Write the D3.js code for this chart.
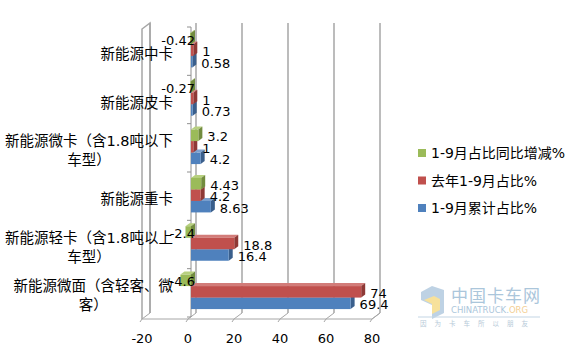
<!DOCTYPE html>
<html>
<head>
  <meta charset="utf-8">
  <script src="https://d3js.org/d3.v7.min.js"></script>
  <style>
    body { margin: 0; background: #fff; }
    svg { font-family: "DejaVu Sans", "Noto Sans CJK SC", sans-serif; }
  </style>
</head>
<body>
  <svg id="chart" width="576" height="354"></svg>
  <script>
    // data
    let categories = ["新能源中卡", "新能源皮卡", "新能源微卡（含1.8吨以下|车型）", "新能源重卡", "新能源轻卡（含1.8吨以上|车型）", "新能源微面（含轻客、微|客）"];
    let seriesNames = ["1-9月占比同比增减%", "去年1-9月占比%", "1-9月累计占比%"];
    let changeValues = [-0.42, -0.27, 3.2, 4.43, -2.4, -4.6];
    let lastYearValues = [1, 1, 1, 4.2, 18.8, 74];
    let cumValues = [0.58, 0.73, 4.2, 8.63, 16.4, 69.4];
    let xTicks = [-20, 0, 20, 40, 60, 80];

    let seriesValues = [changeValues, lastYearValues, cumValues];
    let colors = [
      {front: "#9bbb59", top: "#b7d07f", side: "#728c3e"},
      {front: "#c0504d", top: "#d27c79", side: "#8e3936"},
      {front: "#4f81bd", top: "#7ea2d0", side: "#3a5f8c"}
    ];

    let svg = d3.select("#chart");

    // front plane of the 3D box, depth goes up-right
    let x = d3.scaleLinear().domain([-20, 80]).range([142, 372]);
    let y = d3.scaleBand().domain(d3.range(categories.length)).range([29, 319]);
    let depth = {dx: 8, dy: -6};
    let barOff = {dx: 3, dy: -3};
    let barDepth = {dx: 4, dy: -3};
    let barH = 11.5;

    let grid = svg.append("g").attr("stroke", "#a6a6a6").attr("fill", "none");
    let plotTop = y.range()[0], plotBottom = y.range()[1];
    let x0 = x.range()[0], x1 = x.range()[1];

    // back wall gridlines
    xTicks.forEach(function(t) {
      grid.append("line")
        .attr("x1", x(t) + depth.dx).attr("x2", x(t) + depth.dx)
        .attr("y1", plotTop + depth.dy).attr("y2", plotBottom + depth.dy)
        .attr("stroke-width", 1.5);
      // floor lines
      grid.append("line")
        .attr("x1", x(t)).attr("y1", plotBottom)
        .attr("x2", x(t) + depth.dx).attr("y2", plotBottom + depth.dy);
      // tick marks
      grid.append("line")
        .attr("x1", x(t)).attr("y1", plotBottom)
        .attr("x2", x(t) - 2).attr("y2", plotBottom + 3);
    });

    // left wall and floor outlines
    grid.append("path")
      .attr("d", "M" + x0 + "," + plotBottom + "L" + x0 + "," + plotTop +
                 "L" + (x0 + depth.dx) + "," + (plotTop + depth.dy) +
                 "L" + (x0 + depth.dx) + "," + (plotBottom + depth.dy))
      .attr("stroke-width", 1.5);
    grid.append("path")
      .attr("d", "M" + x0 + "," + plotBottom + "L" + x1 + "," + plotBottom +
                 "L" + (x1 + depth.dx) + "," + (plotBottom + depth.dy));

    // category axis at 0
    let axisX = x(0) + barOff.dx;
    grid.append("line")
      .attr("x1", axisX).attr("x2", axisX)
      .attr("y1", plotTop + barOff.dy + 1).attr("y2", plotBottom + barOff.dy + 1)
      .attr("stroke", "#909090");
    d3.range(categories.length + 1).forEach(function(i) {
      let yy = (i < categories.length ? y(i) : plotBottom) + barOff.dy + 1;
      grid.append("line")
        .attr("x1", axisX - 4).attr("x2", axisX)
        .attr("y1", yy).attr("y2", yy)
        .attr("stroke", "#909090");
    });

    // x axis labels
    svg.append("g").selectAll("text")
      .data(xTicks).enter().append("text")
      .attr("x", function(d) { return x(d); })
      .attr("y", 338)
      .attr("text-anchor", "middle")
      .attr("dominant-baseline", "central")
      .attr("font-size", 13)
      .attr("fill", "#000")
      .text(function(d) { return d; });

    // category labels
    let catG = svg.append("g");
    categories.forEach(function(c, i) {
      let lines = c.split("|");
      let cy = y(i) + y.bandwidth() / 2;
      let t = catG.append("text")
        .attr("font-size", 14.5)
        .attr("fill", "#000")
        .attr("dominant-baseline", "central");
      if (lines.length == 1) {
        t.attr("x", 173).attr("y", cy + 1).attr("text-anchor", "end").text(c);
      } else {
        t.attr("x", 173).attr("y", cy - 9).attr("text-anchor", "end").text(lines[0]);
        let w = t.node().getComputedTextLength();
        catG.append("text")
          .attr("font-size", 14.5)
          .attr("fill", "#000")
          .attr("dominant-baseline", "central")
          .attr("text-anchor", "middle")
          .attr("x", 173 - w / 2).attr("y", cy + 10)
          .text(lines[1]);
      }
    });

    // bars, drawn bottom series first so upper bars cover top faces
    let barG = svg.append("g");
    let labelG = svg.append("g");
    categories.forEach(function(c, i) {
      let groupTop = y(i) + y.bandwidth() / 2 + barOff.dy - barH * 1.5;
      for (let s = seriesValues.length - 1; s >= 0; s--) {
        let v = seriesValues[s][i];
        let xa = Math.min(x(v), x(0)) + barOff.dx;
        let xb = Math.max(x(v), x(0)) + barOff.dx;
        let ya = groupTop + s * barH;
        let yb = ya + barH;
        let col = colors[s];
        barG.append("path")
          .attr("d", "M" + xa + "," + ya + "L" + (xa + barDepth.dx) + "," + (ya + barDepth.dy) +
                     "L" + (xb + barDepth.dx) + "," + (ya + barDepth.dy) + "L" + xb + "," + ya + "Z")
          .attr("fill", col.top);
        barG.append("path")
          .attr("d", "M" + xb + "," + ya + "L" + (xb + barDepth.dx) + "," + (ya + barDepth.dy) +
                     "L" + (xb + barDepth.dx) + "," + (yb + barDepth.dy) + "L" + xb + "," + yb + "Z")
          .attr("fill", col.side);
        barG.append("rect")
          .attr("x", xa).attr("y", ya)
          .attr("width", xb - xa).attr("height", barH)
          .attr("fill", col.front);

        let lt = labelG.append("text")
          .attr("font-size", 13)
          .attr("fill", "#000")
          .attr("dominant-baseline", "central")
          .attr("y", ya + barH / 2 + 1.5)
          .text(v);
        if (v >= 0) {
          lt.attr("x", x(v) + barOff.dx + 9).attr("text-anchor", "start");
        } else {
          lt.attr("x", x(0) + 7).attr("text-anchor", "end");
        }
      }
    });

    // legend
    let legend = svg.append("g");
    seriesNames.forEach(function(n, i) {
      let ly = 153 + i * 27.5;
      legend.append("rect")
        .attr("x", 418).attr("y", ly - 4)
        .attr("width", 8).attr("height", 8)
        .attr("fill", colors[i].front);
      legend.append("text")
        .attr("x", 431).attr("y", ly)
        .attr("dominant-baseline", "central")
        .attr("font-size", 14)
        .attr("fill", "#000")
        .text(n);
    });

    // watermark
    let wm = svg.append("g").attr("opacity", 0.75);
    wm.append("path")
      .attr("d", "M421,292L432,286L444,290L444,313L432,319L432,305L421,300Z")
      .attr("fill", "#a9c4dc");
    wm.append("path")
      .attr("d", "M424,300L434,296L440,299L440,310L432,314L432,304Z")
      .attr("fill", "#f5d77a");
    wm.append("text")
      .attr("x", 451).attr("y", 296)
      .attr("dominant-baseline", "central")
      .attr("font-size", 17)
      .attr("fill", "#8fb3d0")
      .attr("letter-spacing", 1)
      .text("中国卡车网");
    wm.append("text")
      .attr("x", 451).attr("y", 310)
      .attr("dominant-baseline", "central")
      .attr("font-size", 8.5)
      .attr("fill", "#8fb3d0")
      .text("CHINATRUCK.")
      .append("tspan").attr("fill", "#f0c070").text("ORG");
    wm.append("line")
      .attr("x1", 418).attr("x2", 540).attr("y1", 317).attr("y2", 317)
      .attr("stroke", "#b0c8dc");
    wm.append("text")
      .attr("x", 420).attr("y", 324)
      .attr("dominant-baseline", "central")
      .attr("font-size", 6.5)
      .attr("fill", "#a0b8cc")
      .attr("letter-spacing", 8)
      .text("因为卡车所以朋友");
  </script>
</body>
</html>
